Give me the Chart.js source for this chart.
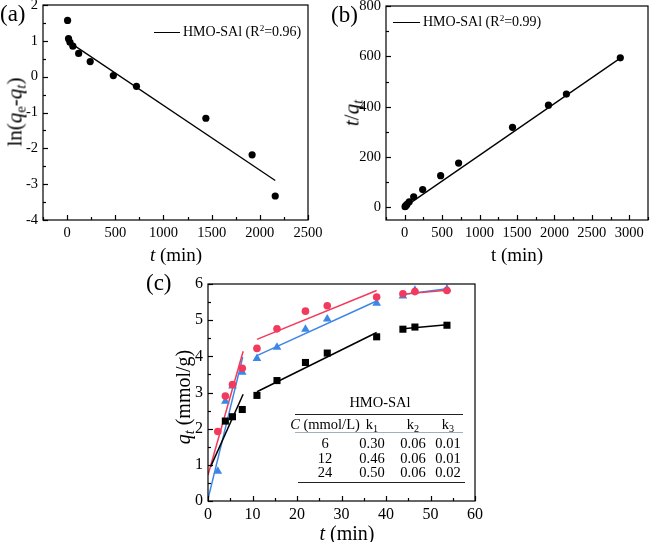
<!DOCTYPE html>
<html>
<head>
<meta charset="utf-8">
<script src="https://cdn.jsdelivr.net/npm/chart.js@4.4.0/dist/chart.umd.min.js"></script>
<style>
  body { margin: 0; background: #fff; }
  #wrap { position: relative; width: 653px; height: 542px; overflow: hidden; font-family: "Liberation Serif", "Times New Roman", serif; color: #000; }
  canvas { position: absolute; }
  .txt { position: absolute; white-space: nowrap; line-height: 1; }
  .rot { transform: translate(-50%, -50%) rotate(-90deg); }
  .ctr { transform: translate(-50%, -50%); }
  .lg-line { position: absolute; height: 0; border-top: 1.3px solid #000; }
  .rule { position: absolute; height: 0; }
  sub { font-size: 70%; vertical-align: -0.3em; line-height: 0; }
  sup { font-size: 65%; vertical-align: 0.55em; line-height: 0; }
</style>
</head>
<body>
<div id="wrap">
  <canvas id="chartA" width="330" height="290" style="left:0;top:-20px;width:330px;height:290px"></canvas>
  <canvas id="chartB" width="333" height="290" style="left:320px;top:-20px;width:333px;height:290px"></canvas>
  <canvas id="chartC" width="340" height="282" style="left:150px;top:260px;width:340px;height:282px"></canvas>

  <div class="txt" style="left:0;top:2px;font-size:23px">(a)</div>
  <div class="txt" style="left:331px;top:3px;font-size:23px">(b)</div>
  <div class="txt" style="left:146px;top:271px;font-size:23px">(c)</div>

  <div class="txt rot" style="left:15px;top:112px;font-size:21px">ln(<i>q</i><sub>e</sub>-<i>q</i><sub><i>t</i></sub>)</div>
  <div class="txt ctr" style="left:176px;top:254px;font-size:19px"><i>t</i> (min)</div>
  <div class="txt rot" style="left:352px;top:113px;font-size:21px"><i>t</i>/<i>q</i><sub><i>t</i></sub></div>
  <div class="txt ctr" style="left:517px;top:254px;font-size:19px">t (min)</div>
  <div class="txt rot" style="left:183px;top:397px;font-size:20px"><i>q</i><sub><i>t</i></sub> (mmol/g)</div>
  <div class="txt ctr" style="left:347px;top:533px;font-size:20px"><i>t</i> (min)</div>

  <div class="lg-line" style="left:154px;top:32px;width:26px"></div>
  <div class="txt" style="left:183px;top:25px;font-size:14px">HMO-SAl (R<sup>2</sup>=0.96)</div>
  <div class="lg-line" style="left:393px;top:22px;width:27px"></div>
  <div class="txt" style="left:423px;top:15px;font-size:14px">HMO-SAl (R<sup>2</sup>=0.99)</div>

  <div id="table"></div>
</div>

<script>
// ---- data ----
// (a) pseudo-first-order: ln(qe - qt) vs t
const timeA = [5, 15, 30, 60, 120, 240, 480, 720, 1440, 1920, 2160];
const lnA = [1.57, 1.06, 0.96, 0.85, 0.65, 0.42, 0.03, -0.27, -1.16, -2.18, -3.33];
const fitAX = [30, 2160];
const fitAY = [0.95, -2.90];

// (b) pseudo-second-order: t/qt vs t
const timeB = [5, 15, 30, 60, 120, 240, 480, 720, 1440, 1920, 2160, 2880];
const tqB = [3, 7, 12, 22, 42, 71, 126, 176, 318, 406, 450, 594];
const fitBX = [0, 2880];
const fitBY = [2, 593];

// (c) intraparticle diffusion: qt vs t^0.5
const sqrtT = [2.2, 3.9, 5.5, 7.7, 11.0, 15.5, 21.9, 26.8, 37.9, 43.8, 46.5, 53.7];
const q6 = [null, 2.21, 2.33, 2.53, 2.92, 3.33, 3.83, 4.09, 4.54, 4.75, 4.81, 4.86];
const q12 = [1.92, 2.90, 3.22, 3.67, 4.22, 4.76, 5.25, 5.40, 5.64, 5.73, 5.79, 5.82];
const q24 = [0.82, 2.76, 3.18, 3.56, 3.94, 4.25, 4.75, 5.03, 5.47, 5.67, 5.83, 5.86];
const segX = [[0.6, 7.9], [11.0, 37.9], [43.8, 53.7]];
const segX12 = [[0, 7.9], [11.0, 37.9], [43.8, 53.7]];
const segX24 = [[0, 7.8], [11.0, 37.9], [43.8, 53.7]];
const fit6 = [[0.95, 2.95], [3.02, 4.66], [4.76, 4.87]];
const fit12 = [[0.72, 4.14], [4.47, 5.82], [5.72, 5.83]];
const fit24 = [[0.05, 3.98], [4.02, 5.53], [5.71, 5.87]];

// tick values
const aXTicks = [0, 500, 1000, 1500, 2000, 2500];
const aYTicks = [-4, -3, -2, -1, 0, 1, 2];
const bXTicks = [0, 500, 1000, 1500, 2000, 2500, 3000];
const bYTicks = [0, 200, 400, 600, 800];
const cXTicks = [0, 10, 20, 30, 40, 50, 60];
const cYTicks = [0, 1, 2, 3, 4, 5, 6];

// table in panel (c)
const tableTitle = 'HMO-SAl';
const tableHead = ['<i>C</i> (mmol/L)', 'k<sub>1</sub>', 'k<sub>2</sub>', 'k<sub>3</sub>'];
const tableRows = [
  ['6', '0.30', '0.06', '0.01'],
  ['12', '0.46', '0.06', '0.01'],
  ['24', '0.50', '0.06', '0.02']
];

const RED = '#f23a5c';
const BLUE = '#3c86e6';
const FONT = '"Liberation Serif", "Times New Roman", serif';

// draws the box and inward major/minor ticks like the original plots
const frameTicks = {
  id: 'frameTicks',
  afterDraw(chart) {
    const { ctx, chartArea: a } = chart;
    ctx.save();
    ctx.strokeStyle = '#000';
    ctx.lineWidth = 1.2;
    ctx.strokeRect(a.left, a.top, a.right - a.left, a.bottom - a.top);
    ['x', 'y'].forEach(id => {
      const s = chart.scales[id];
      const major = s.ticks.map(t => t.value);
      const step = major[1] - major[0];
      const minor = [];
      for (let v = major[0] - step / 2; v <= s.max + 1e-9; v += step) {
        if (v >= s.min - 1e-9) minor.push(v);
      }
      const draw = (v, len) => {
        const p = Math.round(s.getPixelForValue(v)) + 0.5;
        ctx.beginPath();
        if (id === 'x') { ctx.moveTo(p, a.bottom); ctx.lineTo(p, a.bottom - len); }
        else { ctx.moveTo(a.left, p); ctx.lineTo(a.left + len, p); }
        ctx.stroke();
      };
      major.forEach(v => draw(v, 5));
      minor.forEach(v => draw(v, 3));
    });
    ctx.restore();
  }
};

function axis(min, max, ticks, fontSize, fixed, isX) {
  return {
    type: 'linear',
    min: min,
    max: max,
    grid: { display: false, drawTicks: false },
    border: { display: false },
    afterBuildTicks: s => { s.ticks = ticks.map(v => ({ value: v })); },
    afterFit: s => { if (isX) s.height = fixed; else s.width = fixed; },
    ticks: {
      color: '#000',
      padding: isX ? 4 : 5,
      maxRotation: 0,
      font: { family: FONT, size: fontSize },
      callback: v => String(v)
    }
  };
}

function baseOptions(padding, xScale, yScale) {
  return {
    responsive: false,
    animation: false,
    devicePixelRatio: 1,
    layout: { padding: padding },
    plugins: { legend: { display: false }, tooltip: { enabled: false } },
    scales: { x: xScale, y: yScale }
  };
}

const pts = (xs, ys) => xs.map((x, i) => ({ x: x, y: ys[i] })).filter(p => p.y !== null);

// ---- (a) ----
new Chart(document.getElementById('chartA'), {
  type: 'scatter',
  data: {
    datasets: [
      { data: pts(timeA, lnA), pointRadius: 3.6, pointBackgroundColor: '#000', pointBorderWidth: 0 },
      { data: pts(fitAX, fitAY), showLine: true, pointRadius: 0, borderColor: '#000', borderWidth: 1.3 }
    ]
  },
  options: baseOptions({ top: 25, right: 22, left: 0, bottom: 0 },
    axis(-250, 2500, aXTicks, 14.5, 50, true),
    axis(-4, 2, aYTicks, 14.5, 43, false)),
  plugins: [frameTicks]
});

// ---- (b) ----
new Chart(document.getElementById('chartB'), {
  type: 'scatter',
  data: {
    datasets: [
      { data: pts(timeB, tqB), pointRadius: 3.6, pointBackgroundColor: '#000', pointBorderWidth: 0 },
      { data: pts(fitBX, fitBY), showLine: true, pointRadius: 0, borderColor: '#000', borderWidth: 1.3 }
    ]
  },
  options: baseOptions({ top: 26, right: 5, left: 0, bottom: 0 },
    axis(-250, 3250, bXTicks, 14.5, 50, true),
    axis(-50, 800, bYTicks, 14.5, 66, false)),
  plugins: [frameTicks]
});

// ---- (c) ----
const cSets = [
  { data: pts(sqrtT, q12), pointStyle: 'circle', pointRadius: 3.8, pointBackgroundColor: RED, pointBorderWidth: 0 },
  { data: pts(sqrtT, q24), pointStyle: 'triangle', pointRadius: 5, pointBackgroundColor: BLUE, pointBorderWidth: 0 },
  { data: pts(sqrtT, q6), pointStyle: 'rect', pointRadius: 5, pointBackgroundColor: '#000', pointBorderWidth: 0 }
];
[[segX, fit6, '#000'], [segX12, fit12, RED], [segX24, fit24, BLUE]].forEach(([xs, ys, col]) => {
  xs.forEach((sx, i) => {
    cSets.push({ data: pts(sx, ys[i]), showLine: true, pointRadius: 0, borderColor: col, borderWidth: 1.5 });
  });
});
new Chart(document.getElementById('chartC'), {
  type: 'scatter',
  data: { datasets: cSets },
  options: baseOptions({ top: 24, right: 15, left: 0, bottom: 0 },
    axis(0, 60, cXTicks, 16, 41, true),
    axis(0, 6, cYTicks, 16, 58, false)),
  plugins: [frameTicks]
});

// ---- table overlay in (c) ----
(function buildTable() {
  const host = document.getElementById('table');
  const colX = [325, 372, 413, 448];
  const rowY = [443, 458, 472];
  let html = `<div class="txt ctr" style="left:380px;top:402px;font-size:14.5px">${tableTitle}</div>`;
  html += '<div class="rule" style="left:295px;top:414px;width:168px;border-top:1.5px solid #222"></div>';
  tableHead.forEach((h, i) => {
    html += `<div class="txt ctr" style="left:${colX[i]}px;top:424px;font-size:14.5px">${h}</div>`;
  });
  html += '<div class="rule" style="left:295px;top:432px;width:168px;border-top:1px solid #9fb0b8"></div>';
  tableRows.forEach((r, j) => {
    r.forEach((c, i) => {
      html += `<div class="txt ctr" style="left:${colX[i]}px;top:${rowY[j]}px;font-size:14.5px">${c}</div>`;
    });
  });
  html += '<div class="rule" style="left:298px;top:482px;width:167px;border-top:1.5px solid #222"></div>';
  host.innerHTML = html;
})();
</script>
</body>
</html>
